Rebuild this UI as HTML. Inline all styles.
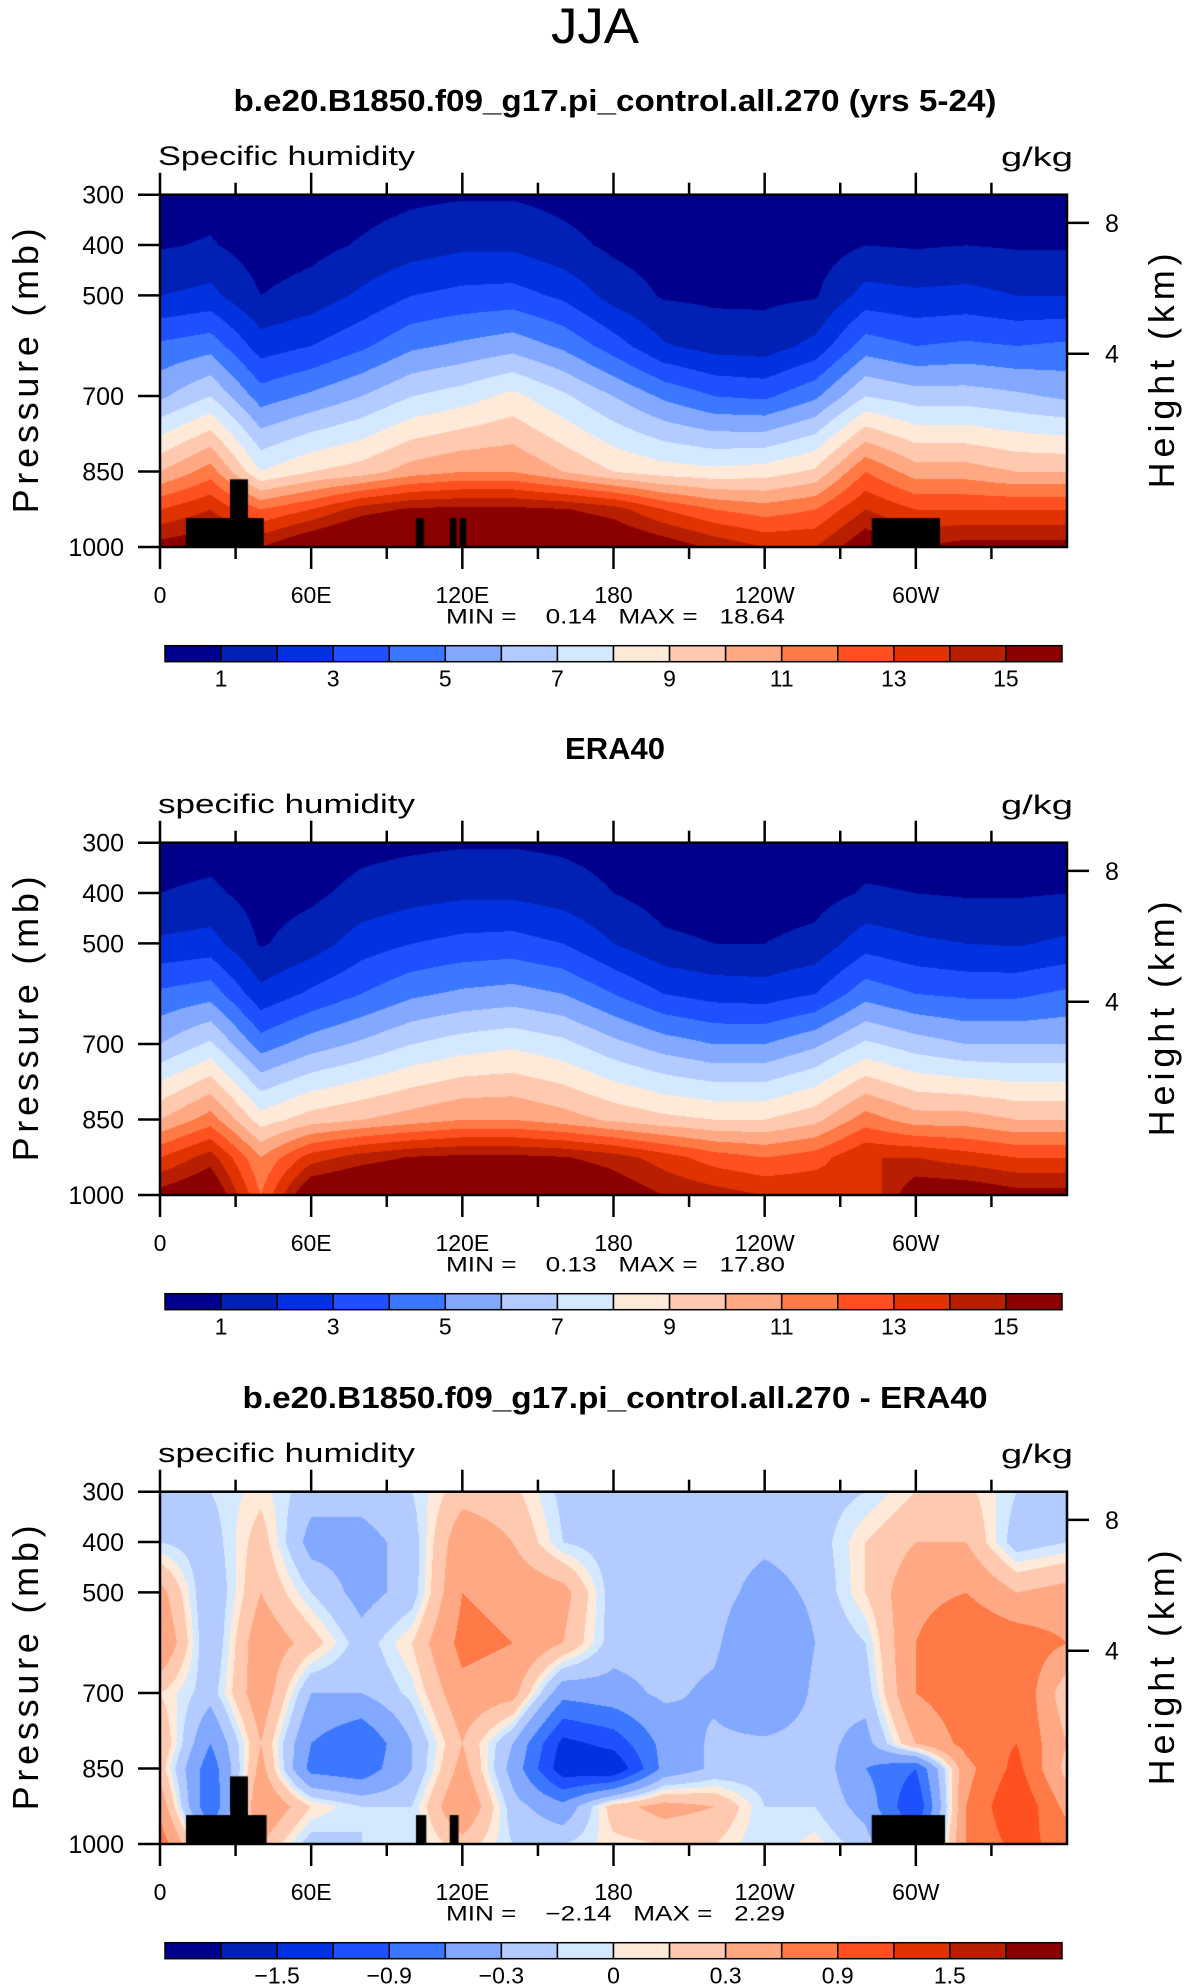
<!DOCTYPE html>
<html><head><meta charset="utf-8">
<style>
html,body{margin:0;padding:0;background:#fff;}
#wrap{position:relative;width:1190px;height:1987px;overflow:hidden;}
canvas{position:absolute;}
svg{position:absolute;left:0;top:0;}
text{font-family:"Liberation Sans",sans-serif;fill:#000;}
</style></head>
<body>
<div id="wrap">
<canvas id="c0"></canvas>
<canvas id="c1"></canvas>
<canvas id="c2"></canvas>
<svg id="s" width="1190" height="1987"></svg>
</div>
<script>
const lons = [0,20,40,60,80,100,120,140,160,180,200,220,240,260,280,300,320,340];
const presQ = [300,400,500,600,700,850,925,1000];
const modelQ = [
 [0.5,0.6,0.3,0.4,0.6,0.8,0.9,0.9,0.7,0.5,0.3,0.2,0.2,0.3,0.5,0.5,0.5,0.4],
 [0.9,1.1,0.5,0.7,1.1,1.5,1.8,1.8,1.3,0.8,0.5,0.4,0.4,0.5,1.0,0.9,1.0,0.9],
 [2.0,2.3,1.0,1.4,2.2,3.0,3.3,3.4,2.8,1.6,0.9,0.8,0.8,0.9,2.4,2.2,2.3,2.0],
 [4.2,4.6,2.5,3.0,3.8,4.8,5.2,5.6,4.8,3.5,2.1,1.6,1.5,2.3,4.5,4.0,4.2,4.0],
 [5.8,7.0,4.5,5.2,6.0,7.0,7.5,8.3,7.2,6.0,4.8,4.0,3.8,4.8,7.0,6.5,6.5,6.2],
 [10,11.5,8,9,9.5,10.5,11,11,10,9,8.5,8.3,8.5,9.2,12,10.5,10.5,10],
 [13,14,12,13,14.5,15.2,15.3,15.3,15.1,14.5,13,12,11.5,12,14,13,13,13],
 [15.5,16,15,16.5,17.5,17.8,17.8,17.6,17,16.5,15.8,14.8,14,14,16,15,15.5,15.5]
];
const eraQ = [
 [0.5,0.6,0.3,0.4,0.7,0.8,0.9,0.9,0.8,0.6,0.4,0.3,0.3,0.4,0.6,0.6,0.5,0.4],
 [1.0,1.2,0.6,0.8,1.3,1.6,1.8,1.8,1.5,1.0,0.6,0.5,0.5,0.6,1.1,1.0,0.9,0.9],
 [2.2,2.4,0.9,1.5,2.5,3.0,3.3,3.4,3.0,2.0,1.2,1.0,1.0,1.3,2.6,2.2,2.0,1.9],
 [4.2,4.6,2.3,3.2,4.0,4.8,5.2,5.4,5.0,4.0,3.0,2.6,2.5,3.0,4.6,4.0,3.8,3.8],
 [6.0,7.2,4.5,5.5,6.2,7.0,7.5,7.8,7.3,6.3,5.5,5.0,5.0,5.8,7.2,6.5,6.0,6.0],
 [10,11.5,8.5,9.5,10,10.5,11,11,10.5,9.8,9.3,9,9,9.7,11.5,10.5,10.5,10],
 [13,14.5,11,13.5,14.5,15.1,15.3,15.3,15.1,14.5,13.5,12.5,12,12.5,14,14,13.5,13],
 [15.5,16.5,12,16.5,17,17.2,17.5,17.5,17,16,15,14.5,14,14,13,16,16,15.5]
];
const presD = [300,400,500,600,700,800,850,925,1000];
const diffQ = [
 [-0.2,-0.1,0.05,-0.2,-0.2,-0.1,0.2,0.15,-0.15,-0.2,-0.2,-0.2,-0.2,-0.2,-0.1,0.1,0.15,-0.1],
 [-0.1,-0.2,0.2,-0.4,-0.4,-0.2,0.5,0.3,-0.1,-0.2,-0.2,-0.2,-0.25,-0.2,0.1,0.3,0.3,-0.2],
 [0.4,-0.3,0.3,-0.1,-0.4,-0.2,0.6,0.5,0.4,-0.2,-0.2,-0.2,-0.4,-0.25,0.1,0.5,0.6,0.3],
 [0.6,-0.3,0.5,0.2,-0.2,0.1,0.7,0.6,0.3,-0.2,-0.2,-0.25,-0.6,-0.3,-0.1,0.6,0.9,0.8],
 [0.1,-0.2,0.5,-0.3,-0.3,-0.05,0.5,0.4,-0.5,-0.4,-0.25,-0.35,-0.6,-0.25,-0.2,0.6,0.8,0.9],
 [0.3,-0.6,0.3,-0.6,-0.9,-0.3,0.3,-0.3,-1.3,-1.1,-0.5,-0.25,-0.25,-0.2,-0.4,0.3,0.7,0.9],
 [0.2,-0.8,0.4,-0.7,-0.8,-0.3,0.4,-0.4,-1.4,-1.5,-0.5,-0.25,-0.2,-0.1,-0.6,-0.9,0.5,1.0],
 [0.5,-0.9,0.6,0.1,-0.1,-0.1,0.6,-0.2,-0.5,0.2,0.4,0.3,-0.1,-0.1,-0.4,-1.2,0.6,1.2],
 [0.8,-0.3,0.3,-0.2,-0.1,-0.1,0.2,-0.1,-0.1,0.05,0.1,0.1,-0.1,0.05,-0.2,-0.8,0.6,1.0]
];
const levelsQ = [1,2,3,4,5,6,7,8,9,10,11,12,13,14,15];
const levelsD = [-1.8,-1.5,-1.2,-0.9,-0.6,-0.3,-0.1,0,0.1,0.3,0.6,0.9,1.2,1.5,1.8];
const cbLabelsQ = ["1","3","5","7","9","11","13","15"];
const cbLabelsD = ["\u22121.5","\u22120.9","\u22120.3","0","0.3","0.9","1.5"];
const xTickLons = [0,60,120,180,240,300];
const xTickLabels = ["0","60E","120E","180","120W","60W"];
const yTicks = [300,400,500,700,850,1000];
const heightTickP = [356,616];
const heightTickLabels = ["8","4"];
const maskModel = [[10.3,41.2,942],[27.8,34.9,865],[101.6,104.8,942],[115,117.6,942],[119,121.5,942],[282.5,309.6,942]];
const maskDiff = [[10.3,42.3,942],[27.8,34.9,865],[101.6,105.7,942],[115,118.5,942],[282.5,311.6,942]];

const colors = ["#00008c","#0021b4","#0032e0","#1e50ff","#3c78ff","#82a8ff","#b4cbff","#d4e9ff","#ffe9d8","#ffc9b0","#ffa984","#ff7a46","#ff5020","#e03300","#b81f00","#8b0000"];
const rgb = colors.map(c=>[parseInt(c.substr(1,2),16),parseInt(c.substr(3,2),16),parseInt(c.substr(5,2),16)]);

const L=160, R=1067, PW=R-L, PH=352.3;
const tops=[194.7,842.7,1491.7];
function xOf(lon){return L+lon/360*PW;}
function yOf(p,top){return top+(p-300)/700*PH;}

function sample(table,pres,lon,p){
  let n=lons.length;
  let fi=lon/20; let i0=Math.floor(fi)%n; let i1=(i0+1)%n; let tx=fi-Math.floor(fi);
  let j=0; while(j<pres.length-2 && p>pres[j+1]) j++;
  let ty=(p-pres[j])/(pres[j+1]-pres[j]); ty=Math.max(0,Math.min(1,ty));
  let a=table[j][i0]*(1-tx)+table[j][i1]*tx;
  let b=table[j+1][i0]*(1-tx)+table[j+1][i1]*tx;
  return a*(1-ty)+b*ty;
}
function drawField(id,table,pres,levels,mask,top){
  const cv=document.getElementById(id);
  const W=Math.round(PW), H=Math.round(PH);
  cv.width=W; cv.height=H; cv.style.left=L+'px'; cv.style.top=top+'px';
  const ctx=cv.getContext('2d'); const img=ctx.createImageData(W,H);
  for(let y=0;y<H;y++){
    const p=300+(y+0.5)/PH*700;
    for(let x=0;x<W;x++){
      const lon=(x+0.5)/PW*360;
      const v=sample(table,pres,lon,p);
      let k=0; while(k<levels.length && v>=levels[k]) k++;
      const c=rgb[k]; const o=(y*W+x)*4;
      img.data[o]=c[0];img.data[o+1]=c[1];img.data[o+2]=c[2];img.data[o+3]=255;
    }
  }
  ctx.putImageData(img,0,0);
  ctx.fillStyle='#000';
  mask.forEach(m=>{
    const x0=m[0]/360*PW, x1=m[1]/360*PW, y0=(m[2]-300)/700*PH;
    ctx.fillRect(x0,y0,x1-x0,H-y0);
  });
}
drawField('c0',modelQ,presQ,levelsQ,maskModel,tops[0]);
drawField('c1',eraQ,presQ,levelsQ,[],tops[1]);
drawField('c2',diffQ,presD,levelsD,maskDiff,tops[2]);

const NS="http://www.w3.org/2000/svg";
const svg=document.getElementById('s');
function el(tag,attrs,txt){const e=document.createElementNS(NS,tag);for(const k in attrs)e.setAttribute(k,attrs[k]);if(txt!==undefined)e.textContent=txt;svg.appendChild(e);return e;}

let t=el('text',{x:595,y:43,'font-size':50,'text-anchor':'middle',textLength:88,lengthAdjust:'spacingAndGlyphs'},'JJA');



const titles=["b.e20.B1850.f09_g17.pi_control.all.270 (yrs 5-24)","ERA40","b.e20.B1850.f09_g17.pi_control.all.270 - ERA40"];
const titleLen=[763,null,745];
const leftLabels=["Specific humidity","specific humidity","specific humidity"];
const minmax=[["0.14","18.64"],["0.13","17.80"],["\u22122.14","2.29"]];
const panelNames=['model','era40','difference'];

for(let k=0;k<3;k++){
  const top=tops[k], bot=top+PH, off=top-tops[0];
  const a={x:615,y:111+off,'font-size':31,'font-weight':'bold','text-anchor':'middle'};
  if(titleLen[k]){a.textLength=titleLen[k];a.lengthAdjust='spacingAndGlyphs';}
  t=el('text',a,titles[k]);
  
  
  t=el('text',{x:158,y:165+off,'font-size':27,textLength:257,lengthAdjust:'spacingAndGlyphs'},leftLabels[k]);
  
  
  t=el('text',{x:1073,y:166+off,'font-size':27,'text-anchor':'end',textLength:72,lengthAdjust:'spacingAndGlyphs'},'g/kg');
  
  
  t=el('rect',{x:L,y:top,width:PW,height:PH,fill:'none',stroke:'#000','stroke-width':2.5});
  
  
  for(let lon=0;lon<360;lon+=30){
    const x=xOf(lon), major=lon%60===0, len=major?22:12;
    t=el('line',{x1:x,y1:top,x2:x,y2:top-len,stroke:'#000','stroke-width':2.5});
    
    
    t=el('line',{x1:x,y1:bot,x2:x,y2:bot+len,stroke:'#000','stroke-width':2.5});
    
    
  }
  xTickLons.forEach((lon,i)=>{
    t=el('text',{x:xOf(lon),y:bot+56,'font-size':23,'text-anchor':'middle'},xTickLabels[i]);
    
    
  });
  yTicks.forEach(p=>{
    const y=yOf(p,top);
    t=el('line',{x1:L,y1:y,x2:L-22,y2:y,stroke:'#000','stroke-width':2.5});
    
    
    t=el('text',{x:124,y:y+9,'font-size':25,'text-anchor':'end'},String(p));
    
    
  });
  heightTickP.forEach((p,i)=>{
    const y=yOf(p,top);
    t=el('line',{x1:R,y1:y,x2:R+22,y2:y,stroke:'#000','stroke-width':2.5});
    
    
    t=el('text',{x:1112,y:y+9,'font-size':25,'text-anchor':'middle'},heightTickLabels[i]);
    
    
  });
  const cy=top+PH/2;
  t=el('text',{x:0,y:0,'font-size':36,'text-anchor':'middle',transform:`translate(38,${cy}) rotate(-90)`,textLength:285,lengthAdjust:'spacing'},'Pressure (mb)');
  
  
  t=el('text',{x:0,y:0,'font-size':36,'text-anchor':'middle',transform:`translate(1174,${cy}) rotate(-90)`,textLength:235,lengthAdjust:'spacing'},'Height (km)');
  
  
  t=el('text',{x:446,y:top+429,'font-size':21,style:'white-space:pre',textLength:339,lengthAdjust:'spacingAndGlyphs'},`MIN =    ${minmax[k][0]}   MAX =   ${minmax[k][1]}`);
  
  
  const cbL=165, cbR=1062, cbT=top+451, cbH=16, bw=(cbR-cbL)/16;
  for(let i=0;i<16;i++){
    t=el('rect',{x:cbL+i*bw,y:cbT,width:bw,height:cbH,fill:colors[i],stroke:'#000','stroke-width':1.5});
    
    
  }
  const labs=k===2?cbLabelsD:cbLabelsQ;
  labs.forEach((s,i)=>{
    const b=k===2?(i<3?2+2*i:(i===3?8:10+2*(i-4))):(1+2*i);
    const x=cbL+b*bw;
    t=el('text',{x:x,y:cbT+41,'font-size':23,'text-anchor':'middle'},s);
    
    
  });
}
</script>
</body></html>
